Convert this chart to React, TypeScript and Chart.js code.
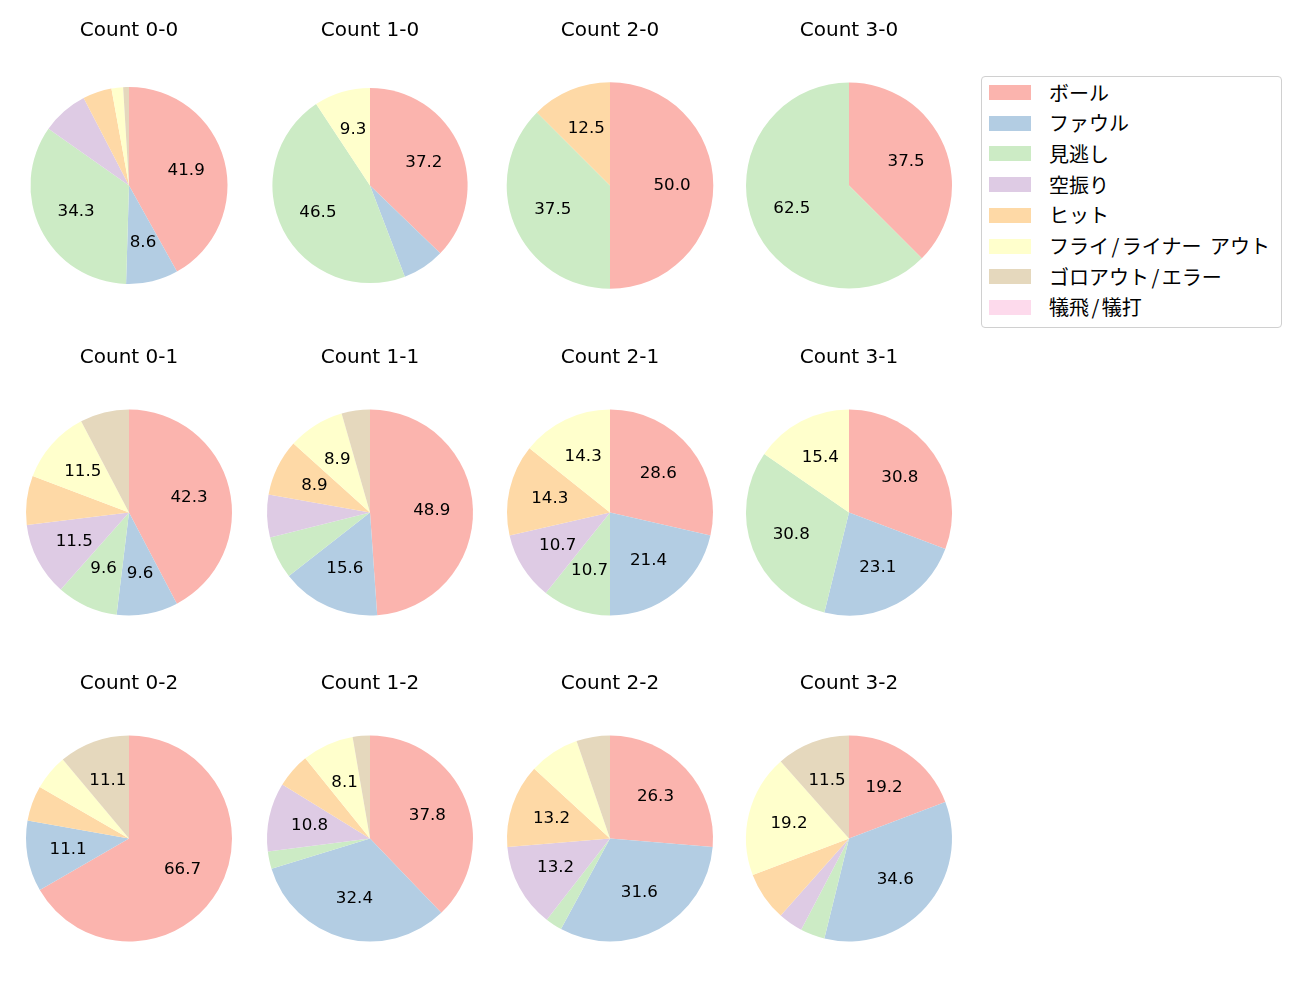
import React, { useEffect, useRef } from "react";
import { Chart, registerables } from "chart.js";

Chart.register(...registerables);

const categories = [
  "ボール",
  "ファウル",
  "見逃し",
  "空振り",
  "ヒット",
  "フライ/ライナー アウト",
  "ゴロアウト/エラー",
  "犠飛/犠打",
];

const colors = ["#fbb4ae", "#b3cde3", "#ccebc5", "#decbe4", "#fed9a6", "#ffffcc", "#e5d8bd", "#fddaec"];

const countTitles = [
  "Count 0-0", "Count 1-0", "Count 2-0", "Count 3-0",
  "Count 0-1", "Count 1-1", "Count 2-1", "Count 3-1",
  "Count 0-2", "Count 1-2", "Count 2-2", "Count 3-2",
];

const count00 = [44, 9, 36, 8, 5, 2, 1, 0];
const count10 = [16, 3, 20, 0, 0, 4, 0, 0];
const count20 = [4, 0, 3, 0, 1, 0, 0, 0];
const count30 = [3, 0, 5, 0, 0, 0, 0, 0];
const count01 = [22, 5, 5, 6, 4, 6, 4, 0];
const count11 = [22, 7, 3, 3, 4, 4, 2, 0];
const count21 = [8, 6, 3, 3, 4, 4, 0, 0];
const count31 = [4, 3, 4, 0, 0, 2, 0, 0];
const count02 = [12, 2, 0, 0, 1, 1, 2, 0];
const count12 = [14, 12, 1, 4, 2, 3, 1, 0];
const count22 = [10, 12, 1, 5, 5, 3, 2, 0];
const count32 = [5, 9, 1, 1, 2, 5, 3, 0];

const seriesList = [
  count00, count10, count20, count30,
  count01, count11, count21, count31,
  count02, count12, count22, count32,
];

// layout (not data)
const colCenters = [128.8, 369.5, 609.7, 848.6];
const rowCenters = [185.5, 512, 838.5];
const radii = [98.5, 97.6, 103.3, 103, 103, 103, 103, 103, 103, 103, 103, 103];
const CANVAS_W = 240;
const CANVAS_H = 300;
const TITLE_SIZE = 20;
const TITLE_PAD_TOP = 2;
const TITLE_PAD_BOTTOM = 11;
const LABEL_THRESHOLD = 8;

const pctPlugin = {
  id: "pctLabels",
  afterDatasetsDraw(chart: any) {
    const ctx = chart.ctx;
    const meta = chart.getDatasetMeta(0);
    const data: number[] = chart.data.datasets[0].data;
    const total = data.reduce((a, b) => a + b, 0);
    ctx.save();
    ctx.font = "16.7px 'DejaVu Sans', sans-serif";
    ctx.fillStyle = "#000";
    ctx.textAlign = "center";
    ctx.textBaseline = "middle";
    meta.data.forEach((arc: any, i: number) => {
      const pct = (data[i] / total) * 100;
      if (pct < LABEL_THRESHOLD) return;
      const p = arc.getProps(["x", "y", "startAngle", "endAngle", "outerRadius"], true);
      const mid = (p.startAngle + p.endAngle) / 2;
      const r = p.outerRadius * 0.6;
      ctx.fillText(pct.toFixed(1), p.x + Math.cos(mid) * r, p.y + Math.sin(mid) * r);
    });
    ctx.restore();
  },
};

function PieChart({ values, title, radius }: { values: number[]; title: string; radius: number }) {
  const ref = useRef<HTMLCanvasElement>(null);
  useEffect(() => {
    if (!ref.current) return;
    const chart = new Chart(ref.current, {
      type: "pie",
      data: {
        labels: categories,
        datasets: [
          {
            data: values,
            backgroundColor: colors,
            borderWidth: 0,
            radius: radius,
          } as any,
        ],
      },
      options: {
        responsive: false,
        animation: false,
        devicePixelRatio: 1,
        layout: { padding: 0 },
        plugins: {
          legend: { display: false },
          tooltip: { enabled: false },
          title: {
            display: true,
            text: title,
            color: "#000",
            font: { family: "'DejaVu Sans', sans-serif", size: TITLE_SIZE, weight: "normal" as any, lineHeight: 1.2 },
            padding: { top: TITLE_PAD_TOP, bottom: TITLE_PAD_BOTTOM },
          },
        },
      },
      plugins: [pctPlugin],
    });
    return () => chart.destroy();
  }, [values, title, radius]);
  return <canvas ref={ref} width={CANVAS_W} height={CANVAS_H} style={{ width: CANVAS_W, height: CANVAS_H }} />;
}

function LegendLabel({ text }: { text: string }) {
  const parts: React.ReactNode[] = [];
  let buf = "";
  let k = 0;
  for (const ch of text) {
    if (ch === "/" || ch === " ") {
      if (buf) parts.push(<span key={k++}>{buf}</span>);
      buf = "";
      parts.push(
        <span key={k++} style={{ margin: ch === "/" ? "0 2.5px" : "0 2px", whiteSpace: "pre" }}>
          {ch}
        </span>
      );
    } else {
      buf += ch;
    }
  }
  if (buf) parts.push(<span key={k++}>{buf}</span>);
  return <>{parts}</>;
}

function Legend() {
  return (
    <div
      style={{
        position: "absolute",
        left: 981,
        top: 76,
        width: 301,
        height: 252,
        border: "1px solid #d0d0d0",
        borderRadius: 4,
        boxSizing: "border-box",
        background: "#fff",
      }}
    >
      {categories.map((c, i) => (
        <div key={c}>
          <div
            style={{
              position: "absolute",
              left: 7,
              top: 8 + 30.7 * i,
              width: 42,
              height: 15,
              background: colors[i],
            }}
          />
          <div
            style={{
              position: "absolute",
              left: 67,
              top: 15.5 + 30.7 * i - 15,
              height: 30,
              lineHeight: "30px",
              fontSize: 20,
              fontFamily: "'Noto Sans CJK JP', sans-serif",
              color: "#000",
              whiteSpace: "nowrap",
            }}
          >
            <LegendLabel text={c} />
          </div>
        </div>
      ))}
    </div>
  );
}

export default function App() {
  return (
    <div style={{ position: "absolute", left: 0, top: 0, width: 1300, height: 1000, background: "#fff" }}>
      {seriesList.map((vals, i) => {
        const col = i % 4;
        const row = Math.floor(i / 4);
        const cx = colCenters[col];
        const cy = rowCenters[row];
        const titleHalf = (TITLE_SIZE * 1.2) / 2;
        const top = cy - 156.5 - titleHalf;
        return (
          <div key={i} style={{ position: "absolute", left: cx - CANVAS_W / 2, top, width: CANVAS_W, height: CANVAS_H }}>
            <PieChart values={vals} title={countTitles[i]} radius={radii[i]} />
          </div>
        );
      })}
      <Legend />
    </div>
  );
}
